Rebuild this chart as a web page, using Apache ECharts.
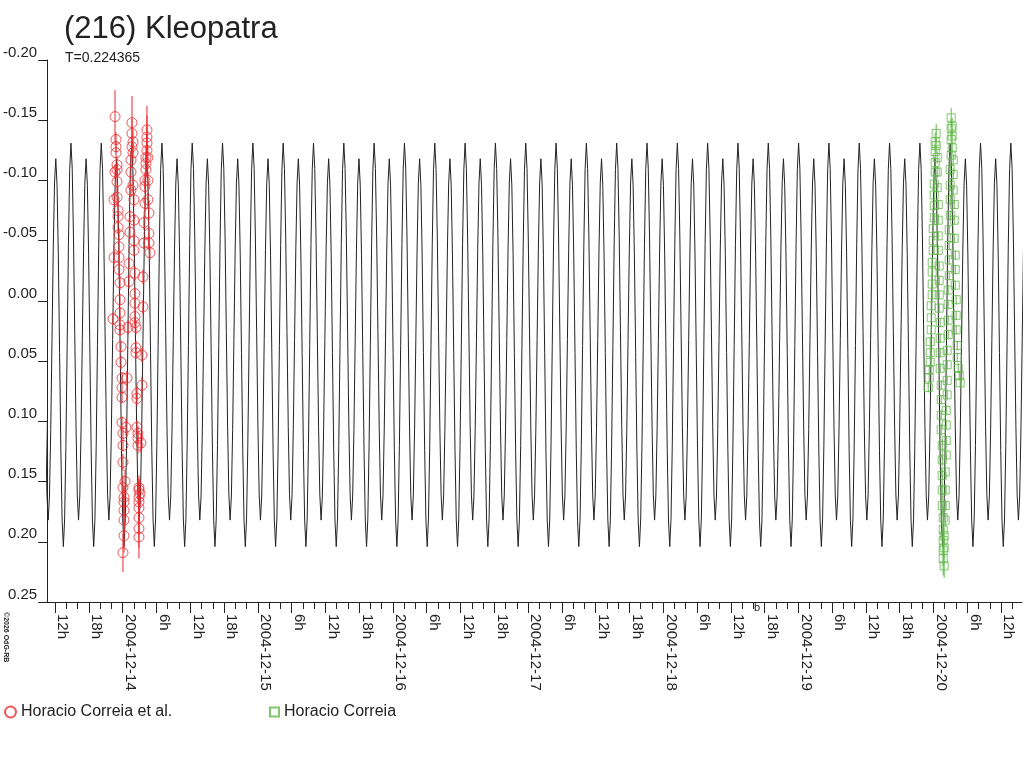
<!DOCTYPE html>
<html>
<head>
<meta charset="utf-8">
<script src="https://cdn.jsdelivr.net/npm/echarts@6/dist/echarts.min.js"></script>
<style>
  html, body { margin: 0; padding: 0; background: #fff; }
  #chart { width: 1024px; height: 768px; }
</style>
</head>
<body>
<div id="chart"></div>
<script>
// hours are counted from 2004-12-13 00:00
var xMin = 10.59;
var xMax = 183.72;

// tick values and labels of the time axis
var majorTicks = [12, 18, 24, 30, 36, 42, 48, 54, 60, 66, 72, 78, 84, 90, 96, 102, 108, 114, 120, 126, 132, 138, 144, 150, 156, 162, 168, 174, 180];
var majorLabels = ['12h', '18h', '2004-12-14', '6h', '12h', '18h', '2004-12-15', '6h', '12h', '18h', '2004-12-16', '6h', '12h', '18h', '2004-12-17', '6h', '12h', '18h', '2004-12-18', '6h', '12h', '18h', '2004-12-19', '6h', '12h', '18h', '2004-12-20', '6h', '12h'];
var minorTicks = [14, 16, 20, 22, 26, 28, 32, 34, 38, 40, 44, 46, 50, 52, 56, 58, 62, 64, 68, 70, 74, 76, 80, 82, 86, 88, 92, 94, 98, 100, 104, 106, 110, 112, 116, 118, 122, 124, 128, 130, 134, 136, 140, 142, 146, 148, 152, 154, 158, 160, 164, 166, 170, 172, 176, 178, 182];

// model lightcurve: period T (days) from the chart, epoch of the bright maximum (hours)
var periodDays = 0.224365;
var epochHour = 14.81;
// one period of the model (24 steps per period)
var modelShape = [-0.131, -0.110, -0.053, 0.026, 0.104, 0.161, 0.182, 0.162, 0.107, 0.032, -0.043, -0.098,
                  -0.118, -0.096, -0.038, 0.043, 0.124, 0.182, 0.204, 0.181, 0.120, 0.037, -0.047, -0.109];

// Horacio Correia et al. : [hour, mag, error]
var redObs = [
  [22.28, 0.015, 0.005], [22.46, -0.036, 0.006], [22.46, -0.084, 0.006], [22.64, -0.107, 0.006],
  [22.64, -0.153, 0.022], [22.81, -0.134, 0.006], [22.81, -0.128, 0.005], [22.81, -0.123, 0.005],
  [22.99, -0.113, 0.007], [22.99, -0.109, 0.005], [22.99, -0.099, 0.008], [22.99, -0.086, 0.007],
  [23.17, -0.075, 0.007], [23.17, -0.070, 0.005], [23.17, -0.061, 0.006], [23.35, -0.055, 0.005],
  [23.35, -0.045, 0.006], [23.35, -0.036, 0.005], [23.35, -0.026, 0.006], [23.52, -0.015, 0.006],
  [23.52, -0.001, 0.005], [23.52, 0.010, 0.005], [23.52, 0.020, 0.006], [23.52, 0.024, 0.005],
  [23.70, 0.038, 0.005], [23.70, 0.051, 0.006], [23.88, 0.064, 0.005], [23.88, 0.072, 0.005],
  [23.88, 0.080, 0.005], [23.88, 0.101, 0.005], [24.05, 0.110, 0.005], [24.05, 0.120, 0.005],
  [24.05, 0.134, 0.007], [24.05, 0.155, 0.010], [24.23, 0.163, 0.009], [24.23, 0.167, 0.012],
  [24.23, 0.174, 0.013], [24.23, 0.182, 0.012], [24.23, 0.195, 0.014], [24.05, 0.209, 0.016],
  [24.41, 0.150, 0.010], [24.58, 0.105, 0.007], [24.76, 0.064, 0.006], [24.94, 0.022, 0.006],
  [25.12, -0.016, 0.006], [25.12, -0.031, 0.005], [25.29, -0.057, 0.006], [25.29, -0.070, 0.005],
  [25.47, -0.092, 0.006], [25.47, -0.107, 0.006], [25.47, -0.117, 0.007], [25.65, -0.128, 0.008],
  [25.65, -0.139, 0.012], [25.65, -0.148, 0.022], [25.83, -0.132, 0.010], [25.83, -0.123, 0.008],
  [25.83, -0.096, 0.006], [26.00, -0.084, 0.006], [26.00, -0.067, 0.005], [26.00, -0.050, 0.006],
  [26.00, -0.042, 0.005], [26.18, -0.023, 0.006], [26.18, -0.006, 0.005], [26.18, 0.002, 0.005],
  [26.18, 0.013, 0.006], [26.18, 0.018, 0.005], [26.36, 0.022, 0.006], [26.36, 0.039, 0.006],
  [26.36, 0.043, 0.005], [26.53, 0.077, 0.006], [26.53, 0.081, 0.006], [26.53, 0.105, 0.006],
  [26.71, 0.110, 0.006], [26.71, 0.114, 0.006], [26.71, 0.120, 0.007], [26.89, 0.155, 0.010],
  [26.89, 0.157, 0.009], [26.89, 0.163, 0.012], [26.89, 0.167, 0.010], [26.89, 0.172, 0.012],
  [26.89, 0.180, 0.014], [26.89, 0.189, 0.016], [26.89, 0.196, 0.018],
  [27.07, 0.160, 0.012], [27.24, 0.118, 0.008], [27.42, 0.070, 0.007], [27.42, 0.045, 0.006],
  [27.60, 0.005, 0.006], [27.60, -0.020, 0.006], [27.77, -0.048, 0.005], [27.77, -0.065, 0.006],
  [27.95, -0.081, 0.006], [27.95, -0.095, 0.006], [27.95, -0.100, 0.007], [28.13, -0.109, 0.007],
  [28.13, -0.114, 0.008], [28.13, -0.119, 0.010], [28.31, -0.125, 0.012], [28.31, -0.131, 0.014],
  [28.31, -0.136, 0.018], [28.31, -0.142, 0.020], [28.48, -0.119, 0.010], [28.48, -0.100, 0.007],
  [28.48, -0.084, 0.006], [28.66, -0.073, 0.006], [28.66, -0.056, 0.006], [28.66, -0.048, 0.006],
  [28.84, -0.040, 0.006]
];

// Horacio Correia : [hour, mag, error]
var greenObs = [
  [167.06, 0.072, 0.004], [167.24, 0.064, 0.004], [167.24, 0.057, 0.004], [167.42, 0.051, 0.004],
  [167.42, 0.043, 0.004], [167.42, 0.034, 0.004], [167.59, 0.024, 0.004], [167.59, 0.014, 0.004],
  [167.59, 0.004, 0.004], [167.77, -0.005, 0.004], [167.77, -0.014, 0.004], [167.77, -0.024, 0.004],
  [167.77, -0.032, 0.004], [167.95, -0.042, 0.004], [167.95, -0.050, 0.004], [167.95, -0.060, 0.004],
  [168.13, -0.069, 0.004], [168.13, -0.079, 0.004], [168.13, -0.088, 0.004], [168.13, -0.097, 0.005],
  [168.30, -0.107, 0.005], [168.30, -0.115, 0.005], [168.30, -0.124, 0.006], [168.30, -0.132, 0.008],
  [168.48, -0.139, 0.008],
  [168.48, -0.129, 0.006], [168.66, -0.119, 0.005], [168.66, -0.107, 0.005], [168.66, -0.094, 0.004],
  [168.84, -0.080, 0.004], [168.84, -0.067, 0.004], [168.84, -0.054, 0.004], [168.84, -0.042, 0.004],
  [169.01, -0.029, 0.004], [169.01, -0.017, 0.004], [169.01, -0.005, 0.004], [169.01, 0.006, 0.004],
  [169.19, 0.018, 0.004], [169.19, 0.031, 0.004], [169.19, 0.043, 0.004], [169.19, 0.056, 0.004],
  [169.37, 0.070, 0.004], [169.37, 0.082, 0.004], [169.37, 0.095, 0.004], [169.37, 0.107, 0.005],
  [169.55, 0.120, 0.005], [169.55, 0.132, 0.005], [169.55, 0.145, 0.006], [169.55, 0.157, 0.006],
  [169.55, 0.170, 0.008], [169.72, 0.180, 0.009], [169.72, 0.190, 0.010], [169.72, 0.199, 0.012],
  [169.72, 0.207, 0.013], [169.72, 0.214, 0.014], [169.90, 0.220, 0.010],
  [169.90, 0.205, 0.008], [169.90, 0.195, 0.007], [170.08, 0.182, 0.006], [170.08, 0.170, 0.005],
  [170.08, 0.157, 0.005], [170.08, 0.142, 0.005], [170.26, 0.128, 0.004], [170.26, 0.116, 0.004],
  [170.26, 0.103, 0.004], [170.26, 0.091, 0.004], [170.43, 0.078, 0.004], [170.43, 0.066, 0.004],
  [170.43, 0.053, 0.004], [170.43, 0.041, 0.004], [170.61, 0.028, 0.004], [170.61, 0.016, 0.004],
  [170.61, 0.003, 0.004], [170.61, -0.009, 0.004], [170.79, -0.021, 0.004], [170.79, -0.034, 0.004],
  [170.79, -0.046, 0.004], [170.79, -0.059, 0.004], [170.97, -0.071, 0.004], [170.97, -0.084, 0.004],
  [170.97, -0.096, 0.005], [170.97, -0.109, 0.005], [171.14, -0.121, 0.006], [171.14, -0.134, 0.007],
  [171.14, -0.143, 0.008], [171.14, -0.152, 0.008],
  [171.32, -0.145, 0.007], [171.32, -0.137, 0.006], [171.32, -0.127, 0.005], [171.50, -0.117, 0.005],
  [171.50, -0.105, 0.005], [171.50, -0.092, 0.004], [171.68, -0.080, 0.004], [171.68, -0.067, 0.004],
  [171.68, -0.052, 0.004], [171.86, -0.038, 0.004], [171.86, -0.026, 0.004], [171.86, -0.013, 0.004],
  [172.03, -0.001, 0.004], [172.03, 0.012, 0.004], [172.03, 0.024, 0.004], [172.21, 0.037, 0.004],
  [172.21, 0.047, 0.004], [172.39, 0.056, 0.004], [172.57, 0.062, 0.004], [172.74, 0.068, 0.004]
];

var RED = '#ec2a2e';
var GREEN = '#62b94a';
var INK = '#222222';
var FONT = 'Liberation Sans';

// lay the model shape along the time axis, period after period
var periodHours = periodDays * 24;
var modelLine = [];
var nFirst = Math.floor((xMin - epochHour) / periodHours) - 1;
var nLast = Math.ceil((xMax - epochHour) / periodHours) + 1;
for (var n = nFirst; n <= nLast; n++) {
  for (var k = 0; k < modelShape.length; k++) {
    modelLine.push([epochHour + (n + k / modelShape.length) * periodHours, modelShape[k]]);
  }
}

function errorBars(color) {
  return function (params, api) {
    var x = api.value(0), y = api.value(1), e = api.value(2);
    var p1 = api.coord([x, y - e]);
    var p2 = api.coord([x, y + e]);
    return {
      type: 'line',
      shape: { x1: p1[0], y1: p1[1], x2: p2[0], y2: p2[1] },
      style: { stroke: color, lineWidth: 1 }
    };
  };
}

var chart = echarts.init(document.getElementById('chart'), null, { renderer: 'canvas' });

var option = {
  animation: false,
  backgroundColor: '#fff',
  textStyle: { fontFamily: FONT, color: INK },
  title: [
    { text: '(216) Kleopatra', left: 64, top: 14, padding: 0,
      textStyle: { fontSize: 31, fontWeight: 'normal', color: INK, fontFamily: FONT } },
    { text: 'T=0.224365', left: 65, top: 51, padding: 0,
      textStyle: { fontSize: 14, fontWeight: 'normal', color: INK, fontFamily: FONT } }
  ],
  legend: [
    { data: ['Horacio Correia et al.'], left: 4, top: 704, padding: 0,
      itemWidth: 11, itemHeight: 11, itemGap: 0,
      textStyle: { fontSize: 16, color: INK, fontFamily: FONT } },
    { data: ['Horacio Correia'], left: 269, top: 704, padding: 0,
      itemWidth: 9, itemHeight: 9, itemGap: 0,
      textStyle: { fontSize: 16, color: INK, fontFamily: FONT } }
  ],
  grid: { left: 45, right: 2, top: 60, bottom: 166 },
  xAxis: [
    {
      type: 'value', min: xMin, max: xMax, position: 'bottom',
      axisLine: { show: true, onZero: false, lineStyle: { color: INK, width: 1 } },
      axisTick: { show: true, customValues: majorTicks, length: 11, lineStyle: { color: INK } },
      axisLabel: {
        show: true, customValues: majorTicks, rotate: -90, margin: 12,
        verticalAlign: 'bottom', fontSize: 15, color: INK, fontFamily: FONT,
        formatter: function (v) {
          var i = majorTicks.indexOf(Math.round(v));
          return i >= 0 ? majorLabels[i] : '';
        }
      },
      splitLine: { show: false }
    },
    {
      type: 'value', min: xMin, max: xMax, position: 'bottom', gridIndex: 0,
      axisLine: { show: false, onZero: false },
      axisTick: { show: true, customValues: minorTicks, length: 7, lineStyle: { color: INK } },
      axisLabel: { show: false },
      splitLine: { show: false }
    }
  ],
  yAxis: {
    type: 'value', inverse: true, min: -0.2, max: 0.25, interval: 0.05,
    axisLine: { show: true, onZero: false, lineStyle: { color: INK, width: 1 } },
    axisTick: { show: true, length: 9, lineStyle: { color: INK } },
    axisLabel: {
      margin: 10, verticalAlign: 'bottom', fontSize: 15, color: INK, fontFamily: FONT,
      formatter: function (v) { return (Math.abs(v) < 1e-9 ? 0 : v).toFixed(2); }
    },
    splitLine: { show: false }
  },
  series: [
    {
      type: 'line', data: modelLine, showSymbol: false, smooth: false,
      lineStyle: { color: INK, width: 1 }, z: 2, silent: true
    },
    {
      name: 'Horacio Correia et al.', type: 'scatter', data: redObs,
      symbol: 'circle', symbolSize: 10,
      itemStyle: { color: 'rgba(0,0,0,0)', borderColor: RED, borderWidth: 1 },
      z: 3
    },
    {
      name: 'Horacio Correia', type: 'scatter', data: greenObs,
      symbol: 'rect', symbolSize: 8,
      itemStyle: { color: 'rgba(0,0,0,0)', borderColor: GREEN, borderWidth: 1 },
      z: 3
    },
    {
      type: 'custom', data: redObs, renderItem: errorBars(RED), z: 4, silent: true
    },
    {
      type: 'custom', data: greenObs, renderItem: errorBars(GREEN), z: 4, silent: true
    }
  ],
  graphic: [
    { type: 'text', x: 2, y: 612, rotation: -Math.PI / 2,
      style: { text: '\u00a92026 OdG-RB', fontSize: 7, fontWeight: 'bold', fill: INK,
               fontFamily: FONT, align: 'left', verticalAlign: 'bottom' } },
    { type: 'text', x: 754, y: 602,
      style: { text: 'b', fontSize: 11, fill: INK, fontFamily: FONT } }
  ]
};

chart.setOption(option);
</script>
</body>
</html>
